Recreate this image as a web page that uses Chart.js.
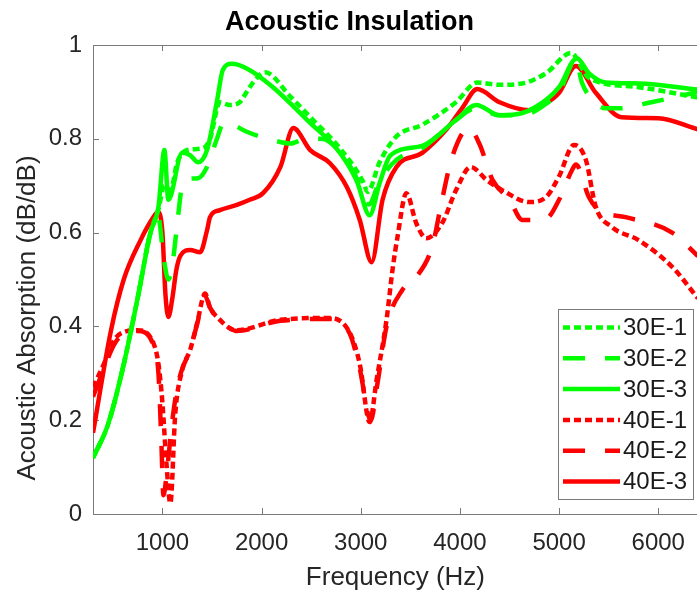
<!DOCTYPE html>
<html>
<head>
<meta charset="utf-8">
<script src="https://cdn.jsdelivr.net/npm/chart.js@4.4.1/dist/chart.umd.min.js"></script>
<style>
  html, body { margin: 0; padding: 0; background: #fff; overflow: hidden; }
  canvas { display: block; }
</style>
</head>
<body>
<canvas id="myChart" width="700" height="594"></canvas>
<script>
// values (frequency in Hz, absorption in dB/dB)
var xTicks = [1000, 2000, 3000, 4000, 5000, 6000];
var yTicks = [0, 0.2, 0.4, 0.6, 0.8, 1];

var freq30E1 = [300, 450, 600, 750, 880, 960, 1020, 1080, 1150, 1250, 1410, 1480, 1580, 1680, 1780, 1850, 1915, 2035, 2290, 2520, 2790, 3020, 3070, 3190, 3360, 3620, 3960, 4175, 4400, 4630, 4870, 5120, 5300, 5800, 6400];
var val30E1  = [0.12, 0.19, 0.31, 0.46, 0.6, 0.65, 0.7, 0.69, 0.75, 0.776, 0.78, 0.8, 0.878, 0.872, 0.878, 0.9, 0.92, 0.942, 0.89, 0.84, 0.78, 0.71, 0.687, 0.75, 0.805, 0.83, 0.878, 0.92, 0.915, 0.918, 0.94, 0.983, 0.93, 0.91, 0.888];

var freq30E2 = [300, 450, 600, 750, 880, 960, 1010, 1060, 1100, 1150, 1200, 1280, 1360, 1450, 1550, 1620, 1680, 1850, 2115, 2290, 2450, 2600, 2800, 2950, 3080, 3190, 3360, 3620, 3960, 4165, 4400, 4630, 4870, 5000, 5170, 5230, 5350, 5470, 5600, 5930, 6400];
var val30E2  = [0.12, 0.19, 0.31, 0.46, 0.6, 0.63, 0.55, 0.5, 0.53, 0.62, 0.7, 0.715, 0.716, 0.74, 0.8, 0.835, 0.833, 0.815, 0.797, 0.79, 0.8, 0.8, 0.77, 0.72, 0.66, 0.71, 0.755, 0.78, 0.84, 0.865, 0.85, 0.85, 0.875, 0.9, 0.968, 0.92, 0.88, 0.865, 0.865, 0.878, 0.9];

var freq30E3 = [300, 450, 600, 750, 880, 960, 1020, 1060, 1200, 1280, 1360, 1450, 1550, 1610, 1700, 1850, 2115, 2460, 2790, 2960, 3090, 3190, 3300, 3620, 3960, 4165, 4400, 4630, 4870, 5000, 5180, 5300, 5470, 5800, 6400];
var val30E3  = [0.12, 0.19, 0.31, 0.46, 0.6, 0.655, 0.776, 0.67, 0.77, 0.765, 0.75, 0.776, 0.88, 0.947, 0.96, 0.95, 0.91, 0.84, 0.77, 0.71, 0.637, 0.705, 0.765, 0.785, 0.84, 0.872, 0.85, 0.855, 0.883, 0.91, 0.972, 0.94, 0.92, 0.918, 0.905];

var freq40E1 = [300, 410, 510, 610, 750, 910, 960, 1000, 1040, 1080, 1130, 1200, 1280, 1350, 1430, 1480, 1580, 1680, 1750, 2190, 2690, 2890, 2990, 3090, 3160, 3260, 3320, 3370, 3460, 3560, 3660, 3820, 3960, 4110, 4270, 4430, 4700, 4870, 5000, 5150, 5270, 5370, 5530, 5800, 6140, 6400];
var val40E1  = [0.27, 0.32, 0.37, 0.388, 0.392, 0.364, 0.32, 0.237, 0.11, 0.023, 0.215, 0.307, 0.35, 0.407, 0.47, 0.44, 0.414, 0.396, 0.392, 0.414, 0.418, 0.386, 0.32, 0.196, 0.286, 0.414, 0.52, 0.59, 0.684, 0.62, 0.588, 0.62, 0.69, 0.74, 0.712, 0.69, 0.665, 0.676, 0.72, 0.787, 0.755, 0.655, 0.612, 0.584, 0.527, 0.46];

var freq40E2 = [300, 410, 510, 610, 750, 910, 960, 990, 1010, 1050, 1100, 1150, 1200, 1280, 1350, 1430, 1480, 1580, 1680, 1750, 2190, 2690, 2890, 2990, 3100, 3170, 3260, 3420, 3560, 3720, 3820, 3920, 4090, 4195, 4330, 4500, 4630, 4870, 5000, 5130, 5170, 5300, 5400, 5670, 6140, 6400];
var val40E2  = [0.25, 0.31, 0.36, 0.385, 0.39, 0.36, 0.3, 0.15, 0.04, 0.1, 0.2, 0.27, 0.31, 0.35, 0.405, 0.465, 0.44, 0.412, 0.396, 0.39, 0.412, 0.416, 0.384, 0.31, 0.2, 0.28, 0.4, 0.478, 0.505, 0.57, 0.67, 0.76, 0.823, 0.79, 0.712, 0.67, 0.627, 0.63, 0.67, 0.733, 0.745, 0.676, 0.648, 0.633, 0.6, 0.55];

var freq40E3 = [300, 480, 610, 780, 900, 955, 1000, 1030, 1060, 1100, 1140, 1180, 1280, 1380, 1450, 1480, 1580, 1750, 1880, 2015, 2190, 2320, 2490, 2690, 2860, 2990, 3110, 3220, 3360, 3620, 3860, 4025, 4175, 4400, 4700, 4870, 5000, 5170, 5370, 5630, 6000, 6400];
var val40E3  = [0.173, 0.39, 0.5, 0.584, 0.63, 0.644, 0.6, 0.47, 0.42, 0.46, 0.52, 0.55, 0.563, 0.558, 0.605, 0.633, 0.648, 0.659, 0.67, 0.684, 0.74, 0.823, 0.776, 0.748, 0.697, 0.627, 0.537, 0.67, 0.74, 0.77, 0.819, 0.866, 0.906, 0.878, 0.861, 0.876, 0.898, 0.955, 0.898, 0.846, 0.844, 0.82];

var seriesNames = ['30E-1', '30E-2', '30E-3', '40E-1', '40E-2', '40E-3'];
var seriesFreq = [freq30E1, freq30E2, freq30E3, freq40E1, freq40E2, freq40E3];
var seriesVals = [val30E1, val30E2, val30E3, val40E1, val40E2, val40E3];

var green = '#00ff00';
var red = '#ff0000';
var dotted = [7, 4];
var dashed = [22, 20];
var colors = [green, green, green, red, red, red];
var dashes = [dotted, dashed, [], dotted, dashed, []];
var fontFamily = '"Liberation Sans", Arial, sans-serif';

function points(fr, vals) {
  var out = [];
  for (var i = 0; i < fr.length; i++) out.push({x: fr[i], y: vals[i]});
  return out;
}

var datasets = [];
for (var i = 0; i < seriesNames.length; i++) {
  datasets.push({
    label: seriesNames[i],
    data: points(seriesFreq[i], seriesVals[i]),
    borderColor: colors[i],
    backgroundColor: colors[i],
    borderWidth: 4.5,
    borderDash: dashes[i],
    borderCapStyle: 'butt',
    pointRadius: 0,
    fill: false,
    cubicInterpolationMode: 'monotone'
  });
}

// axes box with inward ticks, matlab style, plus the y label
var boxPlugin = {
  id: 'box',
  beforeDatasetsDraw: function(chart) {
    var ctx = chart.ctx, a = chart.chartArea, sx = chart.scales.x, sy = chart.scales.y;
    ctx.save();
    ctx.strokeStyle = '#7a7a7a';
    ctx.lineWidth = 1;
    ctx.strokeRect(Math.round(a.left) + 0.5, Math.round(a.top) + 0.5, Math.round(a.right - a.left), Math.round(a.bottom - a.top));
    ctx.beginPath();
    xTicks.forEach(function(v) {
      var px = Math.round(sx.getPixelForValue(v)) + 0.5;
      ctx.moveTo(px, a.bottom); ctx.lineTo(px, a.bottom - 6);
      ctx.moveTo(px, a.top); ctx.lineTo(px, a.top + 6);
    });
    yTicks.forEach(function(v) {
      var py = Math.round(sy.getPixelForValue(v)) + 0.5;
      ctx.moveTo(a.left, py); ctx.lineTo(a.left + 6, py);
    });
    ctx.stroke();

    ctx.translate(28, 318);
    ctx.rotate(-Math.PI / 2);
    ctx.fillStyle = '#262626';
    ctx.font = '26px ' + fontFamily;
    ctx.textAlign = 'center';
    ctx.textBaseline = 'middle';
    ctx.fillText('Acoustic Absorption (dB/dB)', 0, 0);
    ctx.restore();
  }
};

var legendPlugin = {
  id: 'boxLegend',
  afterDraw: function(chart) {
    var ctx = chart.ctx;
    ctx.save();
    ctx.fillStyle = '#fff';
    ctx.fillRect(558, 309, 135, 190);
    ctx.strokeStyle = '#7a7a7a';
    ctx.lineWidth = 1;
    ctx.strokeRect(558.5, 309.5, 135, 190);
    ctx.font = '24px ' + fontFamily;
    ctx.textBaseline = 'middle';
    ctx.textAlign = 'left';
    for (var i = 0; i < seriesNames.length; i++) {
      var y = 327.5 + i * 30.8;
      ctx.strokeStyle = colors[i];
      ctx.lineWidth = 4.5;
      ctx.lineCap = 'butt';
      ctx.setLineDash(dashes[i]);
      ctx.beginPath();
      ctx.moveTo(563, y); ctx.lineTo(620, y);
      ctx.stroke();
      ctx.setLineDash([]);
      ctx.fillStyle = '#1a1a1a';
      ctx.fillText(seriesNames[i], 623, y + 1);
    }
    ctx.restore();
  }
};

var ctx = document.getElementById('myChart').getContext('2d');
var chart = new Chart(ctx, {
  type: 'line',
  data: { datasets: datasets },
  options: {
    responsive: false,
    animation: false,
    devicePixelRatio: 1,
    layout: { padding: { left: 0, right: 1, top: 0, bottom: 0 } },
    plugins: {
      legend: { display: false },
      tooltip: { enabled: false },
      title: {
        display: true,
        text: 'Acoustic Insulation',
        color: '#000',
        font: { family: fontFamily, size: 27, weight: 'bold' },
        padding: { top: 6, bottom: 6.6 }
      }
    },
    scales: {
      x: {
        type: 'linear',
        min: 300,
        max: 6400,
        afterBuildTicks: function(s) { s.ticks = xTicks.map(function(v) { return {value: v}; }); },
        afterFit: function(s) { s.height = 80; },
        grid: { display: false, drawTicks: false },
        border: { display: false },
        ticks: {
          color: '#262626',
          padding: 15,
          maxRotation: 0,
          font: { family: fontFamily, size: 24 },
          callback: function(v) { return String(v); }
        },
        title: {
          display: true,
          text: 'Frequency (Hz)',
          color: '#262626',
          font: { family: fontFamily, size: 26 },
          padding: { top: 0, bottom: 1 }
        }
      },
      y: {
        min: 0,
        max: 1,
        afterBuildTicks: function(s) { s.ticks = yTicks.map(function(v) { return {value: v}; }); },
        afterFit: function(s) { s.width = 93; },
        grid: { display: false, drawTicks: false },
        border: { display: false },
        ticks: {
          color: '#262626',
          padding: 11,
          font: { family: fontFamily, size: 24 },
          callback: function(v) { return (v === 0 || v === 1) ? String(v) : v.toFixed(1); }
        }
      }
    }
  },
  plugins: [boxPlugin, legendPlugin]
});
</script>
</body>
</html>
